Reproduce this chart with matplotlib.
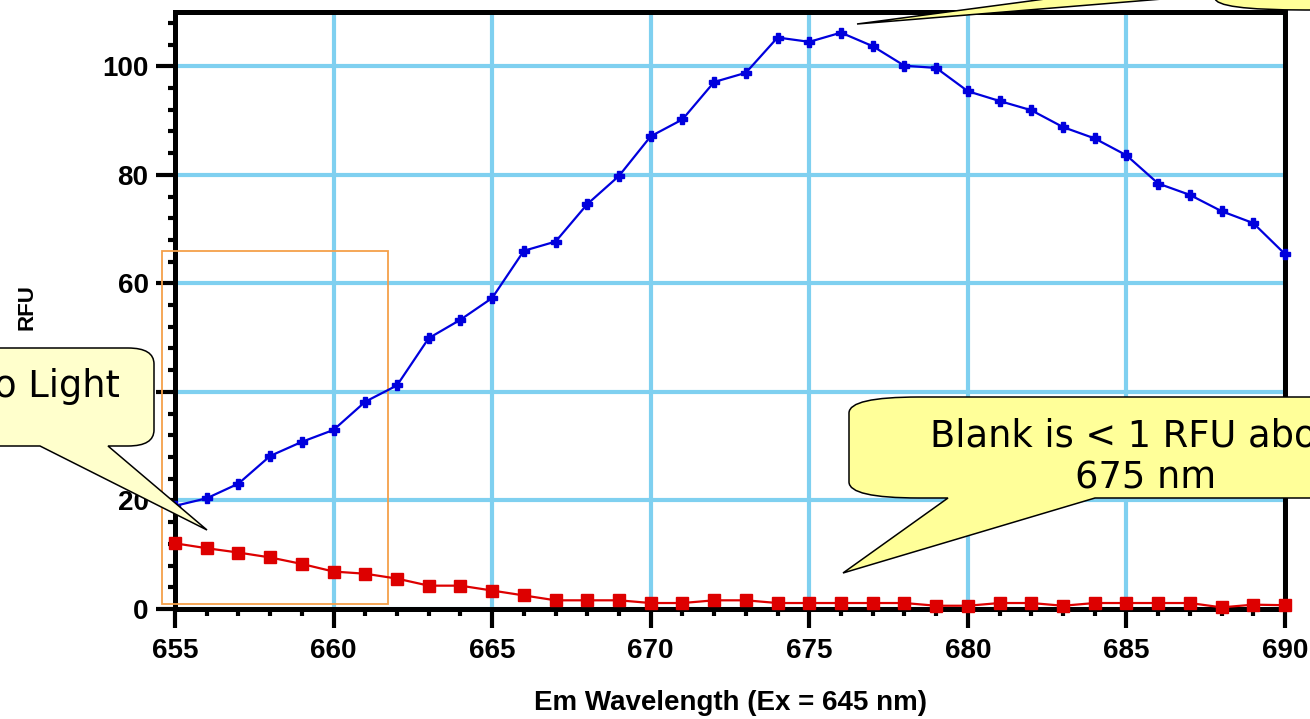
import numpy as np
import matplotlib
matplotlib.use("Agg")
import matplotlib.pyplot as plt
from matplotlib.path import Path
from matplotlib.patches import PathPatch, Rectangle
from matplotlib.transforms import Affine2D

# ===== Data =====
wavelength = list(range(655, 691))
sample_rfu = [19.0, 20.4, 23.1, 28.2, 30.8, 33.0, 38.2, 41.2, 49.9, 53.3,
              57.3, 66.0, 67.7, 74.6, 79.8, 87.1, 90.2, 97.1, 98.8, 105.3,
              104.5, 106.2, 103.7, 100.1, 99.7, 95.4, 93.6, 91.9, 88.8, 86.7,
              83.6, 78.4, 76.3, 73.3, 71.1, 65.4]
blank_rfu = [12.1, 11.2, 10.4, 9.5, 8.3, 6.9, 6.5, 5.6, 4.3, 4.3,
             3.4, 2.5, 1.6, 1.6, 1.6, 1.1, 1.1, 1.6, 1.6, 1.1,
             1.1, 1.1, 1.1, 1.1, 0.6, 0.6, 1.1, 1.1, 0.6, 1.1,
             1.1, 1.1, 1.1, 0.3, 0.8, 0.7]
x_ticks = [655, 660, 665, 670, 675, 680, 685, 690]
y_ticks = [0, 20, 40, 60, 80, 100]

W, H = 1310, 719
GRID = '#7fd0f0'


def bubble_path(x0, y0, x1, y1, rx, ry, tip, b1, b2, side='bottom'):
    # callout outline in reference pixel coords (y grows downward)
    verts, codes = [], []

    def add(p, c):
        verts.append(p)
        codes.append(c)

    def curve(c, p):
        add(c, Path.CURVE3)
        add(p, Path.CURVE3)

    add((x0 + rx, y0), Path.MOVETO)
    add((x1 - rx, y0), Path.LINETO)
    curve((x1, y0), (x1, y0 + ry))
    add((x1, y1 - ry), Path.LINETO)
    curve((x1, y1), (x1 - rx, y1))
    if side == 'bottom':
        add((b2, y1), Path.LINETO)
        add(tip, Path.LINETO)
        add((b1, y1), Path.LINETO)
    add((x0 + rx, y1), Path.LINETO)
    curve((x0, y1), (x0, y1 - ry))
    if side == 'left':
        add((x0, b2), Path.LINETO)
        add(tip, Path.LINETO)
        add((x0, b1), Path.LINETO)
    add((x0, y0 + ry), Path.LINETO)
    curve((x0, y0), (x0 + rx, y0))
    add((x0 + rx, y0), Path.CLOSEPOLY)
    return Path(verts, codes)


fig = plt.figure(figsize=(W / 100, H / 100), dpi=100)
ax = fig.add_axes([175 / W, 1 - 609 / H, 1110 / W, 597 / H])
px = Affine2D().scale(1 / W, -1 / H).translate(0, 1) + fig.transFigure

ax.plot(wavelength, sample_rfu, color='#0000dd', lw=1.6, marker='P',
        markersize=7, clip_on=False, zorder=4)
ax.plot(wavelength, blank_rfu, color='#dd0000', lw=1.6, marker='s',
        markersize=8.5, clip_on=False, zorder=4)

ax.set_xlim(655, 690)
ax.set_ylim(0, 110)
ax.set_xticks(x_ticks)
ax.set_yticks(y_ticks)
ax.set_xticks(np.arange(655, 691, 1), minor=True)
ax.set_yticks(np.arange(0, 111, 4), minor=True)
ax.grid(True, which='major', color=GRID, lw=3, zorder=0)
ax.set_axisbelow(True)

for s in ax.spines.values():
    s.set_linewidth(3.6)
    s.set_color('black')

ax.tick_params(which='major', direction='out', length=14, width=3, pad=5)
ax.tick_params(which='minor', direction='out', length=5, width=3)
for lab in ax.get_xticklabels() + ax.get_yticklabels():
    lab.set_fontfamily('Liberation Sans')
    lab.set_fontweight('bold')
    lab.set_fontsize(20)
ax.tick_params(axis='x', pad=7)

ax.set_xlabel('Em Wavelength (Ex = 645 nm)', fontfamily='Liberation Sans',
              fontweight='bold', fontsize=20, va='center')
ax.xaxis.set_label_coords(0.5, -0.157)
ax.set_ylabel('RFU', fontfamily='Liberation Sans', fontweight='bold',
              fontsize=16, va='center')
ax.yaxis.set_label_coords(-0.133, 0.506)

# orange highlight box
ax.add_patch(Rectangle((654.59, 0.9), 7.13, 65.0, fill=False,
                       edgecolor='#f5a04a', lw=1.3, clip_on=False, zorder=3))

# callouts
top = bubble_path(1215, -300, 1700, 10, 90, 12, (857, 24), -23.6, -5.3,
                  side='left')
fig.add_artist(PathPatch(top, transform=px, facecolor='#ffff99',
                         edgecolor='black', lw=1.1, zorder=1))

left = bubble_path(-300, 348, 154, 446, 26, 16, (207, 530), 40, 108)
fig.add_artist(PathPatch(left, transform=px, facecolor='#ffffcc',
                         edgecolor='black', lw=1.1, zorder=10))
fig.text(120, 397, 'Due to Light', transform=px, ha='right', va='baseline',
         fontsize=26.5, family='DejaVu Sans', zorder=11)

right = bubble_path(849, 397, 1600, 498, 70, 16, (843, 573), 948, 1095)
fig.add_artist(PathPatch(right, transform=px, facecolor='#ffff99',
                         edgecolor='black', lw=1.1, zorder=10))
fig.text(1145.5, 457, 'Blank is < 1 RFU above\n675 nm', transform=px,
         ha='center', va='center', fontsize=26.5, family='DejaVu Sans',
         linespacing=1.15, zorder=11)

fig.savefig('out.png', dpi=100)
